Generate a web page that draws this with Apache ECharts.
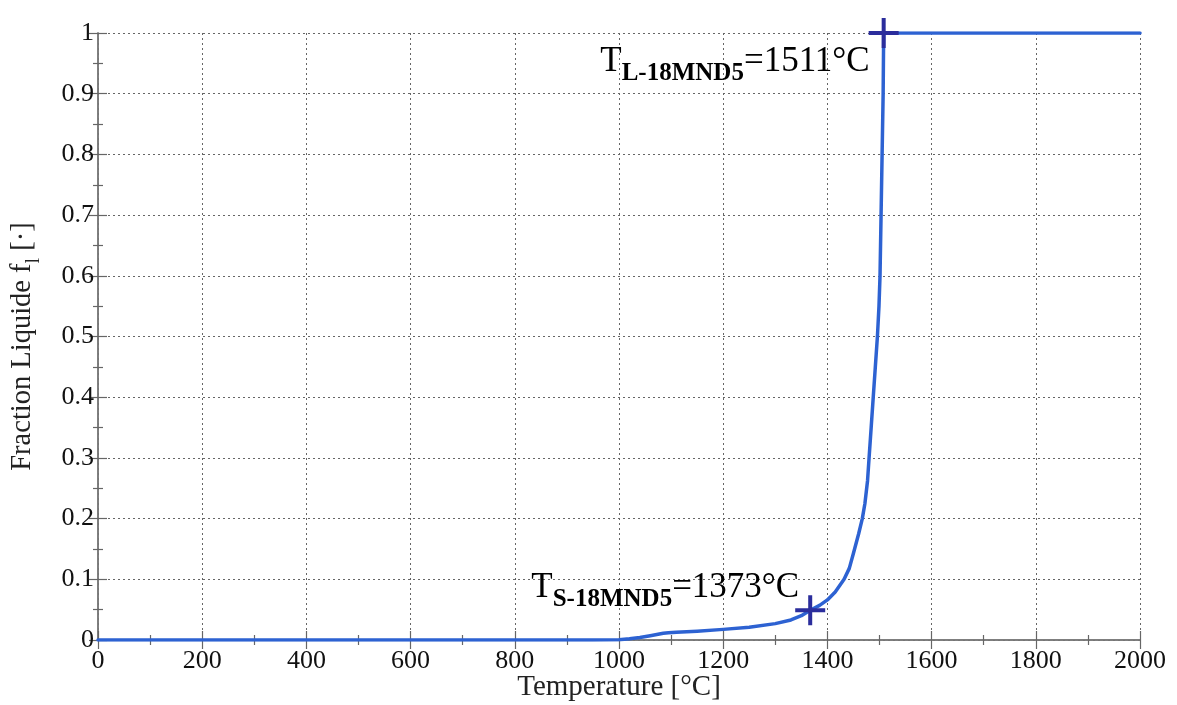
<!DOCTYPE html>
<html>
<head>
<meta charset="utf-8">
<script src="https://cdn.jsdelivr.net/npm/echarts@6/dist/echarts.min.js"></script>
<style>html,body{margin:0;padding:0;background:#fff;}#c{width:1177px;height:705px;}</style>
</head>
<body>
<div id="c"></div>
<script>
var temperature = [0, 950, 1000, 1020, 1040, 1060, 1075, 1085, 1095, 1110, 1150, 1200, 1250, 1300, 1330, 1350, 1367, 1385, 1400, 1415, 1432, 1442, 1450, 1460, 1467, 1472, 1477, 1480, 1484, 1488, 1492, 1496, 1499, 1501, 1503, 1505, 1507, 1508, 2000];
var fractionLiquid = [0, 0, 0.0005, 0.002, 0.004, 0.007, 0.0095, 0.011, 0.012, 0.0128, 0.0145, 0.0175, 0.021, 0.027, 0.033, 0.04, 0.049, 0.057, 0.066, 0.079, 0.1, 0.118, 0.143, 0.175, 0.2, 0.225, 0.262, 0.3, 0.35, 0.4, 0.45, 0.5, 0.55, 0.6, 0.7, 0.8, 0.9, 1.0, 1.0];
var markerTemps = [1367, 1508];
var markerFractions = [0.049, 1.0];
var markerSubs = ['S-18MND5', 'L-18MND5'];
var markerValues = ['=1373°C', '=1511°C'];

var FONT = '"Liberation Serif", "Times New Roman", serif';
var chart = echarts.init(document.getElementById('c'));
var lineData = temperature.map(function (t, i) { return [t, fractionLiquid[i]]; });
var markData = markerTemps.map(function (t, i) {
  return {
    value: [t, markerFractions[i]],
    label: {
      formatter: '{m|T}{s|' + markerSubs[i] + '}{m|' + markerValues[i] + '}',
      offset: i === 0 ? [9, -19] : [6, 32]
    }
  };
});
var axisCommon = {
  type: 'value',
  axisLine: { show: true, lineStyle: { color: '#777', width: 1.5 } },
  axisTick: { show: true, inside: true, length: 9, lineStyle: { color: '#666', width: 1.2 } },
  minorTick: { show: true, splitNumber: 2, length: 5, lineStyle: { color: '#666', width: 1.2 } },
  splitLine: { show: false }
};
chart.setOption({
  animation: false,
  backgroundColor: '#fff',
  grid: { left: 98, right: 37, top: 33, bottom: 65, containLabel: false, outerBoundsMode: 'none' },
  xAxis: [
    Object.assign({}, axisCommon, {
      min: 0, max: 2000, interval: 200, position: 'bottom',
      axisLabel: { color: '#111', fontFamily: FONT, fontSize: 26, margin: 8, formatter: function (v) { return String(v); } },
      splitLine: { show: true, lineStyle: { color: '#666', type: [2, 3], width: 1 } },
      name: 'Temperature [°C]', nameLocation: 'middle', nameGap: 33, nameMoveOverlap: false,
      nameTextStyle: { color: '#222', fontFamily: FONT, fontSize: 29 }
    }),
    Object.assign({}, axisCommon, {
      min: 0, max: 2000, interval: 200, position: 'top',
      axisLabel: { show: false }
    })
  ],
  yAxis: [
    Object.assign({}, axisCommon, {
      min: 0, max: 1, interval: 0.1, position: 'left',
      axisLabel: { color: '#111', fontFamily: FONT, fontSize: 26, margin: 4 },
      splitLine: { show: true, lineStyle: { color: '#666', type: [2, 3], width: 1 } },
      name: '{n|Fraction Liquide f}{sub|l}{n| [·]}', nameLocation: 'middle', nameGap: 54, nameMoveOverlap: false,
      nameTextStyle: {
        color: '#222', fontFamily: FONT, fontSize: 28.5, padding: [0, 20, 0, 0],
        rich: {
          n: { fontFamily: FONT, fontSize: 28.5, color: '#222', lineHeight: 36, verticalAlign: 'top' },
          sub: { fontFamily: FONT, fontSize: 20, color: '#222', lineHeight: 36, verticalAlign: 'bottom' }
        }
      }
    }),
    Object.assign({}, axisCommon, {
      min: 0, max: 1, interval: 0.1, position: 'right',
      axisLabel: { show: false }
    })
  ],
  series: [
    {
      type: 'line', xAxisIndex: 0, yAxisIndex: 0,
      data: lineData, showSymbol: false, smooth: false,
      lineStyle: { color: '#2d62d2', width: 3.5, join: 'round', cap: 'round' }, z: 3
    },
    {
      type: 'scatter', xAxisIndex: 0, yAxisIndex: 0,
      data: markData,
      symbol: 'path://M0,13L30,13L30,17L0,17Z M13,0L17,0L17,30L13,30Z',
      symbolSize: 30,
      itemStyle: { color: '#2b2d9c', opacity: 1 },
      z: 4,
      label: {
        show: true, position: 'left', distance: 5, color: '#000', opacity: 1,
        rich: {
          m: { fontFamily: FONT, fontSize: 35, color: '#000', lineHeight: 42, verticalAlign: 'top' },
          s: { fontFamily: FONT, fontSize: 25, fontWeight: 'bold', color: '#000', lineHeight: 42, verticalAlign: 'bottom' }
        }
      }
    }
  ]
});
</script>
</body>
</html>
